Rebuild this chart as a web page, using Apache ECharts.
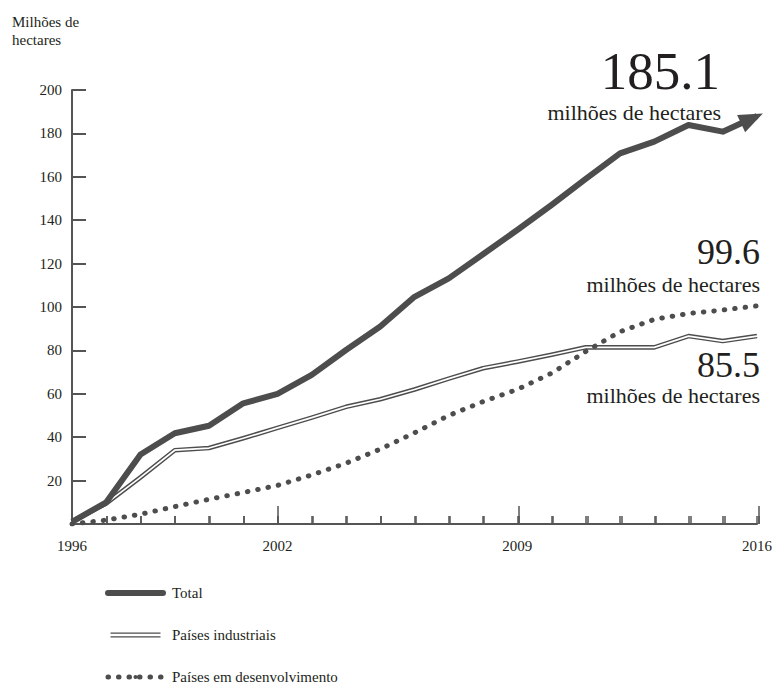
<!DOCTYPE html>
<html>
<head>
<meta charset="utf-8">
<script src="https://cdn.jsdelivr.net/npm/echarts@6/dist/echarts.min.js"></script>
<style>
html,body{margin:0;padding:0;background:#fff;}
#chart{width:775px;height:685px;}
</style>
</head>
<body>
<div id="chart"></div>
<script>
// ---- data ----
const years = ['1996','1997','1998','1999','2000','2001','2002','2003','2004','2005','2006','2007','2008','2009','2010','2011','2012','2013','2014','2015','2016'];
const majorYears = ['1996','2002','2009','2016'];
const total = [1, 10, 32, 41.8, 45.3, 55.6, 60, 68.7, 80.2, 91, 104.7, 113.2, 124.3, 135.5, 147, 159, 170.8, 176.2, 183.9, 180.8, 188];
const industrial = [1, 9.5, 21.5, 34, 35, 39.5, 44.3, 49, 54, 57.5, 62, 67, 71.8, 74.8, 78, 81.4, 81.4, 81.4, 86.6, 84.3, 86.6];
const developing = [0, 1.8, 4.5, 8, 11.4, 14.5, 17.8, 22.6, 28, 34.5, 42, 50, 56.4, 62, 69.5, 79.5, 88.6, 94.3, 97, 98.6, 100.5];
const seriesNames = ['Total', 'Países industriais', 'Países em desenvolvimento'];
const endValues = ['185.1', '99.6', '85.5'];
const unitText = 'milhões de hectares';
const axisTitle = 'Milhões de\nhectares';

// ---- style ----
const FF = 'Liberation Serif';
const C = '#4d4d4d';
const AX = '#555555';
const TXT = '#231f20';
const last = years.length - 1;
const G = {left: 72, right: 16};

function annotation(vals, num, nOff, nSize, tOff, extra) {
  const coord = [years[last], vals[last]];
  const base = {show: true, position: 'inside', align: 'right', verticalAlign: 'middle', color: TXT, fontFamily: FF};
  const data = [
    {coord: coord, label: Object.assign({}, base, {formatter: num, offset: nOff, fontSize: nSize, lineHeight: Math.round(nSize * 0.72)})},
    {coord: coord, label: Object.assign({}, base, {formatter: unitText, offset: tOff, fontSize: 22, lineHeight: 18})}
  ];
  if (extra) data.push(Object.assign({coord: coord}, extra));
  return {
    symbol: 'circle', symbolSize: 1, silent: true,
    itemStyle: {color: 'rgba(0,0,0,0)'},
    data: data
  };
}

const arrowHead = {
  symbol: 'triangle', symbolSize: [19, 24], symbolRotate: -65, symbolOffset: [-5, 2.5],
  itemStyle: {color: C}, label: {show: false}
};

const isMajor = (i, v) => majorYears.includes(v);
const everyYear = (i, v) => years.includes(v);

// tick strips: thin grids sitting on the x axis whose category split lines act as ticks
function tickAxis(gridIndex, interval) {
  return {
    gridIndex: gridIndex, type: 'category', data: years, boundaryGap: false,
    axisLine: {show: false}, axisTick: {show: false}, axisLabel: {show: false},
    splitLine: {show: true, interval: interval, lineStyle: {color: AX, width: 1.5}}
  };
}
function hiddenY(gridIndex) {
  return {gridIndex: gridIndex, type: 'value', axisLine: {show: false}, axisTick: {show: false},
          axisLabel: {show: false}, splitLine: {show: false}};
}

const chart = echarts.init(document.getElementById('chart'), null, {renderer: 'svg'});
chart.setOption({
  animation: false,
  textStyle: {fontFamily: FF},
  grid: [
    Object.assign({top: 90, bottom: 161}, G),
    Object.assign({top: 516, bottom: 161}, G),
    Object.assign({top: 506, bottom: 161}, G)
  ],
  xAxis: [
    {
      gridIndex: 0, type: 'category', data: years, boundaryGap: false,
      axisLine: {lineStyle: {color: AX, width: 2}},
      axisTick: {show: true, inside: true, length: 8, interval: everyYear, lineStyle: {color: AX, width: 1.5}},
      axisLabel: {show: true, interval: isMajor, margin: 14, fontSize: 15, color: TXT, fontFamily: FF},
      splitLine: {show: false}
    },
    tickAxis(1, everyYear),
    tickAxis(2, isMajor)
  ],
  yAxis: [
    {
      gridIndex: 0, type: 'value', min: 0, max: 200, interval: 20,
      axisLine: {show: true, lineStyle: {color: AX, width: 2}},
      axisTick: {show: true, inside: true, length: 14, lineStyle: {color: AX, width: 2}},
      axisLabel: {formatter: v => v === 0 ? '' : String(v), margin: 10, fontSize: 15, color: TXT, fontFamily: FF},
      splitLine: {show: false}
    },
    hiddenY(1),
    hiddenY(2)
  ],
  legend: {
    orient: 'vertical', left: 105, top: 585, height: 110, padding: 0,
    itemWidth: 55, itemHeight: 5, itemGap: 26,
    selectedMode: false,
    textStyle: {fontSize: 15, color: TXT, lineHeight: 16, fontFamily: FF, padding: [0, 0, 0, 4]},
    data: [
      {name: seriesNames[0], lineStyle: {width: 6, cap: 'round'}},
      {name: seriesNames[1], icon: 'path://M0,0H55V1.5H0ZM0,4H55V5.5H0Z', itemStyle: {borderWidth: 0, color: C}},
      {name: seriesNames[2], lineStyle: {width: 5, type: [0.5, 10], cap: 'round'}}
    ]
  },
  graphic: [{
    type: 'text', left: 12, top: 13,
    style: {text: axisTitle, font: '15px Liberation Serif', fill: TXT, align: 'center', lineHeight: 18}
  }],
  series: [
    {
      name: seriesNames[1], type: 'line', data: industrial, symbol: 'none', silent: true, z: 2,
      color: C, itemStyle: {color: C},
      lineStyle: {width: 4.6, color: C, join: 'round'},
      emphasis: {disabled: true},
      markPoint: annotation(industrial, endValues[2], [3, 29], 36, [3, 59])
    },
    {
      name: '_inner', type: 'line', data: industrial, symbol: 'none', silent: true, z: 3,
      color: '#fff', lineStyle: {width: 1.7, color: '#ffffff', join: 'round'},
      emphasis: {disabled: true}
    },
    {
      name: seriesNames[2], type: 'line', data: developing, symbol: 'none', silent: true, z: 4,
      color: C, itemStyle: {color: C},
      lineStyle: {width: 5, color: C, type: [0.5, 10], cap: 'round'},
      emphasis: {disabled: true},
      markPoint: annotation(developing, endValues[1], [3, -53.5], 36, [3, -21.5])
    },
    {
      name: seriesNames[0], type: 'line', data: total, symbol: 'none', silent: true, z: 5,
      color: C, itemStyle: {color: C},
      lineStyle: {width: 6, color: C, cap: 'butt', join: 'round'},
      emphasis: {disabled: true},
      markPoint: annotation(total, endValues[0], [-37, -45.5], 53, [-36, -4], arrowHead)
    }
  ]
});
</script>
</body>
</html>
